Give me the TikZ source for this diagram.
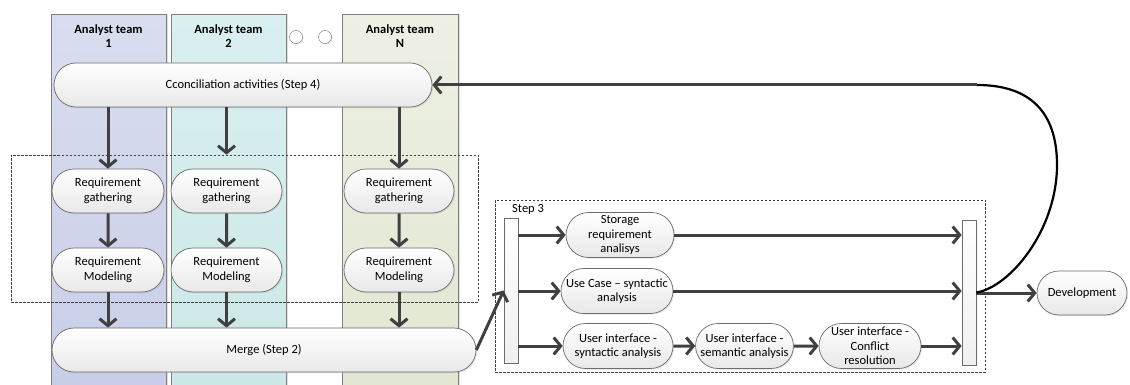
\documentclass[tikz,border=0pt]{standalone}
\usepackage{fontspec}
\setmainfont{Carlito}
\usetikzlibrary{arrows.meta,shapes.misc,shadows}
\definecolor{arrowc}{HTML}{404040}
\definecolor{nodeborder}{HTML}{6B6B6B}
\definecolor{laneborder}{HTML}{7F7F7F}
\definecolor{laneAtop}{HTML}{D9DDEF}
\definecolor{laneAbot}{HTML}{C8CEE8}
\definecolor{laneBtop}{HTML}{DAEFEF}
\definecolor{laneBbot}{HTML}{CCE7E7}
\definecolor{laneCtop}{HTML}{EDF0E3}
\definecolor{laneCbot}{HTML}{E1E7D2}
\tikzset{
  pill/.style={rounded rectangle, draw=nodeborder, line width=0.7pt,
    top color=white, bottom color=black!9, align=center,
    font=\fontsize{12.5}{14.5}\selectfont, inner sep=1pt, minimum height=44,
    drop shadow={opacity=0.18, shadow xshift=1.2pt, shadow yshift=-1.2pt}},
  lane/.style={rectangle, draw=laneborder, line width=0.7pt, inner sep=0pt,
    minimum height=373, anchor=north,
    drop shadow={opacity=0.25, shadow xshift=2pt, shadow yshift=0pt}},
  hdr/.style={font=\bfseries\fontsize{12.5}{14}\selectfont, align=center},
  bar/.style={rectangle, draw=nodeborder, line width=0.7pt, top color=white, bottom color=black!6,
    minimum width=14, minimum height=145, inner sep=0pt,
    drop shadow={opacity=0.18, shadow xshift=1.2pt, shadow yshift=-1.2pt}},
  dashbox/.style={rectangle, draw=black!75, line width=0.6pt, dash pattern=on 2.5pt off 1.5pt,
    inner sep=0pt},
  flow/.style={draw=arrowc, line width=3pt, -{Straight Barb[length=7pt,width=17pt]}},
  dots/.style={circle, draw=black!60, fill=white, minimum size=13, inner sep=0pt,
    drop shadow={opacity=0.2, shadow xshift=1pt, shadow yshift=-1pt}},
}
\begin{document}
\begin{tikzpicture}[x=1pt,y=-1pt]
\useasboundingbox (0,0) rectangle (1130,385);
% lanes
\node[lane, minimum width=115, top color=laneAtop, bottom color=laneAbot] (lane1) at (108.5,14) {};
\node[lane, minimum width=115, top color=laneBtop, bottom color=laneBbot] (lane2) at (228.5,14) {};
\node[lane, minimum width=116, top color=laneCtop, bottom color=laneCbot] (laneN) at (400,14) {};
\node[hdr] (h1) at (108.5,36) {Analyst team\\1};
\node[hdr] (h2) at (228.5,36) {Analyst team\\2};
\node[hdr] (hN) at (400,36) {Analyst team\\N};
\node[dots] (c1) at (296,37) {};
\node[dots] (c2) at (325,37) {};

% dashed boxes
\node[dashbox, minimum width=467, minimum height=147] (box1) at (244.5,228.5) {};
\node[dashbox, minimum width=490, minimum height=172] (box3) at (740,286) {};
\node[font=\fontsize{12.5}{14}\selectfont, anchor=west, inner sep=0pt] (s3) at (512,209) {Step 3};

% nodes
\node[pill, minimum width=380] (conc) at (243,85) {Cconciliation activities (Step 4)};
\node[pill, minimum width=114] (g1) at (108,191) {Requirement\\gathering};
\node[pill, minimum width=113] (g2) at (226.5,191) {Requirement\\gathering};
\node[pill, minimum width=112] (gN) at (399,191) {Requirement\\gathering};
\node[pill, minimum width=114] (m1) at (108,270) {Requirement\\Modeling};
\node[pill, minimum width=113] (m2) at (226.5,270) {Requirement\\Modeling};
\node[pill, minimum width=112] (mN) at (399,270) {Requirement\\Modeling};
\node[pill, minimum width=426] (merge) at (264,350) {Merge (Step 2)};

\node[bar] (barL) at (511,290.5) {};
\node[bar] (barR) at (969,292.5) {};

\node[pill, minimum width=110, minimum height=45] (stor) at (620,235) {Storage\\requirement\\analisys};
\node[pill, minimum width=114, minimum height=45] (uc) at (617,291) {Use Case – syntactic\\analysis};
\node[pill, minimum width=112, minimum height=45] (uis) at (618,346) {User interface -\\syntactic analysis};
\node[pill, minimum width=97, minimum height=45] (uim) at (744.5,346) {User interface -\\semantic analysis};
\node[pill, minimum width=104, minimum height=45] (uic) at (870,346) {User interface -\\Conflict\\resolution};
\node[pill, minimum width=92] (dev) at (1082,293) {Development};

% connectors
\draw[flow] (conc.south -| g1) -- (g1.north);
\draw[flow] (conc.south -| g2) -- (g2 |- box1.north);
\draw[flow] (conc.south -| gN) -- (gN.north);
\draw[flow] (g1) -- (m1);
\draw[flow] (g2) -- (m2);
\draw[flow] (gN) -- (mN);
\draw[flow] (m1.south) -- (m1.south |- merge.north);
\draw[flow] (m2.south) -- (m2.south |- merge.north);
\draw[flow] (mN.south) -- (mN.south |- merge.north);
\draw[flow] (merge.east) -- (barL.west);

\draw[flow] (barL.east |- stor.west) -- (stor.west);
\draw[flow] (barL.east |- uc.west) -- (uc.west);
\draw[flow] (barL.east |- uis.west) -- (uis.west);
\draw[flow] (uis) -- (uim);
\draw[flow] (uim) -- (uic);
\draw[flow] (stor.east) -- (stor.east -| barR.west);
\draw[flow] (uc.east) -- (uc.east -| barR.west);
\draw[flow] (uic.east) -- (uic.east -| barR.west);
\draw[flow] (barR.east |- dev.west) -- (dev.west);

\coordinate (top) at (977,85);
\draw[black, line width=2.2pt] (barR.east) .. controls (1010,287) and (1057,230) .. (1057,165)
   .. controls (1057,112) and (1030,85) .. (top);
\draw[flow] (top) -- (conc.east);
\end{tikzpicture}
\end{document}
